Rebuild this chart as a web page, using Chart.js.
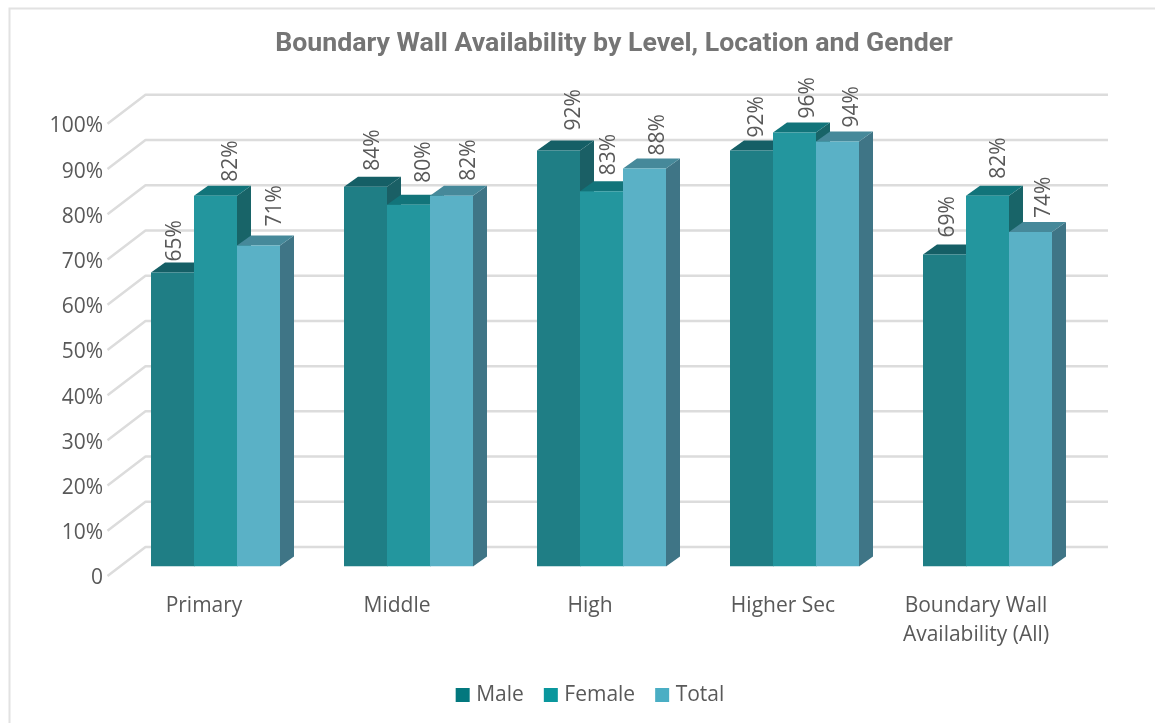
<!DOCTYPE html>
<html><head><meta charset="utf-8">
<style>html,body{margin:0;padding:0;background:#fff}#w{width:1155px;height:723px}</style>
<script src="https://cdn.jsdelivr.net/npm/chart.js@4"></script>
</head><body><div id="w"><canvas id="c" width="1155" height="723"></canvas></div>
<script>
const categories = ["Primary","Middle","High","Higher Sec",["Boundary Wall","Availability (All)"]];
const male   = [65,84,92,92,69];
const female = [82,80,83,96,82];
const total  = [71,82,88,94,74];
const seriesNames = ["Male","Female","Total"];
const titleText = "Boundary Wall Availability by Level, Location and Gender";

const FONT = "'Open Sans'";
const frontColors = ["#1f7e85","#23969e","#5ab1c6"];
const topColors   = ["#155f66","#12747a","#46899a"];
const sideColors  = ["#1a5f65","#186468","#3f7586"];
const legendColors= ["#02787e","#0a979d","#4aaec4"];
const labelNudgeX = [[2.5,7.5,15.5,5.5,3.5],[15.5,15.5,7.5,13.5,11.5],[16.5,17.5,13.5,14.5,13.5]];
const labelNudgeY = [[1,6,10,3,7],[4,12,6,4,7],[9,5,3,4,4]];
const DEPTH_X = 14, DEPTH_Y = 10;
const WALL_X = 38, WALL_Y = 29, WALL_DROP = 9.5;

const threeD = {
  id:'threeD',
  beforeDraw(chart){
    const c = chart.ctx; c.save();
    c.strokeStyle='#e2e2e2'; c.lineWidth=2;
    c.beginPath(); c.moveTo(9.5,723); c.lineTo(9.5,8.5); c.lineTo(1155,8.5); c.stroke();
    const y = chart.scales.y;
    y.ticks.forEach(t=>{
      const py = y.getPixelForValue(t.value)+WALL_DROP, fx=107.5, bx=fx+WALL_X, by=py-WALL_Y;
      c.strokeStyle='#dcdcdc'; c.lineWidth=2.5; c.lineJoin='round';
      c.beginPath(); c.moveTo(fx,py); c.lineTo(bx,by); c.lineTo(1108,by); c.stroke();
    });
    c.restore();
  },
  beforeDatasetsDraw(chart){
    const c = chart.ctx;
    chart.data.datasets.forEach((ds,i)=>{
      chart.getDatasetMeta(i).data.forEach(b=>{
        const l=b.x-b.width/2, r=b.x+b.width/2, t=b.y, bt=b.base;
        c.fillStyle=sideColors[i];
        c.beginPath(); c.moveTo(r,t); c.lineTo(r+DEPTH_X,t-DEPTH_Y); c.lineTo(r+DEPTH_X,bt-DEPTH_Y); c.lineTo(r,bt); c.closePath(); c.fill();
        c.fillStyle=topColors[i];
        c.beginPath(); c.moveTo(l,t); c.lineTo(l+DEPTH_X,t-DEPTH_Y); c.lineTo(r+DEPTH_X,t-DEPTH_Y); c.lineTo(r,t); c.closePath(); c.fill();
      });
    });
  },
  afterDatasetsDraw(chart){
    const c = chart.ctx; c.save();
    c.fillStyle='#595959'; c.font="21px "+FONT; c.textAlign='left'; c.textBaseline='middle';
    chart.data.datasets.forEach((ds,i)=>{
      chart.getDatasetMeta(i).data.forEach((b,j)=>{
        c.save();
        c.translate(b.x+labelNudgeX[i][j], b.y-DEPTH_Y-labelNudgeY[i][j]);
        c.rotate(-Math.PI/2);
        c.fillText(ds.data[j]+'%',0,0);
        c.restore();
      });
    });
    c.restore();
  },
  afterLayout(chart){
    const tb = chart.titleBlock, lg = chart.legend;
    tb.left=275; tb.right=953;
    tb.top=28.5; tb.bottom=tb.top+tb.height;
    lg.left=0; lg.right=1184;
    const h=lg.height; lg.top=688-h/2; lg.bottom=lg.top+h;
    lg.adjustHitBoxes && lg.adjustHitBoxes();
  }
};

new Chart(document.getElementById('c'),{
  type:'bar',
  data:{labels:categories,datasets:[
    {label:seriesNames[0],data:male,backgroundColor:frontColors[0]},
    {label:seriesNames[1],data:female,backgroundColor:frontColors[1]},
    {label:seriesNames[2],data:total,backgroundColor:frontColors[2]}
  ]},
  plugins:[threeD],
  options:{
    responsive:false,animation:false,
    layout:{padding:{left:0,right:71,top:82.3,bottom:0}},
    datasets:{bar:{categoryPercentage:129/193,barPercentage:1,borderWidth:0}},
    scales:{
      x:{
        grid:{display:false},border:{display:false},
        afterFit(s){s.height=101.5;},
        ticks:{color:'#595959',font:{family:FONT,size:21,lineHeight:1.38},padding:17.5,maxRotation:0,minRotation:0,autoSkip:false,labelOffset:-11.5}
      },
      y:{
        min:0,max:100,
        grid:{display:false},border:{display:false},
        afterFit(s){s.width=119;},
        ticks:{stepSize:10,color:'#595959',font:{family:FONT,size:21},padding:8,labelOffset:12,
          callback:v=>v===0?'0':v+'%'}
      }
    },
    plugins:{
      title:{display:true,text:titleText,color:'#757575',font:{family:'Roboto',size:26.7,weight:'bold'},padding:0},
      tooltip:{enabled:false},
      legend:{position:'bottom',labels:{color:'#595959',font:{family:FONT,size:21},boxWidth:6,boxHeight:6,padding:24,
        generateLabels:ch=>ch.data.datasets.map((d,i)=>({text:d.label,fillStyle:legendColors[i],strokeStyle:legendColors[i],lineWidth:8,lineJoin:'miter',datasetIndex:i,fontColor:'#595959'}))}}
    }
  }
});
</script></body></html>
